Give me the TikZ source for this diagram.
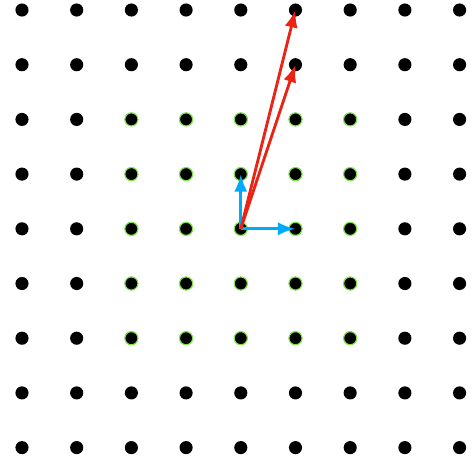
\documentclass[tikz,border=0pt]{standalone}
\usepackage{tikz}
\usetikzlibrary{arrows.meta}
\definecolor{ink}{RGB}{0,0,0}
\definecolor{ring}{RGB}{125,230,70}
\definecolor{basis}{RGB}{0,170,250}
\definecolor{reduced}{RGB}{235,35,20}
\tikzset{
    line cap=round,
    line join=round,
    dot/.style={
        circle,
        fill=ink,
        minimum size=0.24cm,
        inner sep=0pt
    },
    ringdot/.style={
        dot,
        draw=ring,
        line width=0.6pt
    },
    basisvec/.style={
        -{Latex[length=3.2mm, width=2.4mm]},
        draw=basis,
        line width=1.5pt
    },
    longvec/.style={
        -{Latex[length=3.2mm, width=2.4mm]},
        draw=reduced,
        line width=1.5pt
    }
}
\begin{document}
\begin{tikzpicture}

\useasboundingbox (-0.402,-0.238) rectangle (8.227,8.183);

% Lattice points
\foreach \i in {0,...,8}{
    \foreach \j in {0,...,8}{
        \node[dot] (p-\i-\j) at (\i,\j) {};
    }
}

% Neighbourhood of the origin
\foreach \i in {2,...,6}{
    \foreach \j in {2,...,6}{
        \node[ringdot] (q-\i-\j) at (\i,\j) {};
    }
}

% Short basis
\draw[basisvec] (q-4-4.center) -- (q-4-5.center);
\draw[basisvec] (q-4-4.center) -- (q-5-4.center);

% Long basis
\draw[longvec] (q-4-4.center) -- (p-5-8.center);
\draw[longvec] (q-4-4.center) -- (p-5-7.center);

\end{tikzpicture}
\end{document}
